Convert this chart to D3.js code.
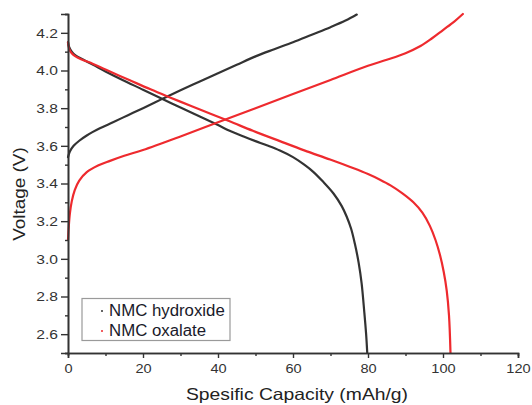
<!DOCTYPE html>
<html>
<head>
<meta charset="utf-8">
<script src="https://cdn.jsdelivr.net/npm/d3@7"></script>
<style>
  html, body { margin: 0; padding: 0; background: #fff; }
  svg { display: block; }
  text { font-family: "Liberation Sans", Arial, sans-serif; }
</style>
</head>
<body>
<svg id="chart" width="532" height="405"></svg>
<script>
// ---- data ----
const hydroxideChargeCap = [0, 0.5, 1.5, 3, 5, 8.5, 12, 16, 20, 25, 30, 35, 40, 45, 50, 55, 60, 65, 70, 74, 77];
const hydroxideChargeV   = [3.54, 3.57, 3.60, 3.627, 3.655, 3.693, 3.725, 3.763, 3.80, 3.848, 3.895, 3.94, 3.985, 4.03, 4.075, 4.113, 4.15, 4.19, 4.23, 4.265, 4.297];

const hydroxideDischargeCap = [0, 0.3, 1, 2, 4, 6.7, 10, 14, 20, 24.5, 30, 35, 40, 43.1, 47, 50, 53, 56.5, 60, 63, 65.4, 68, 70.8, 73, 74.3, 75.5, 76.5, 77.5, 78.3, 79, 79.5, 79.8];
const hydroxideDischargeV   = [4.15, 4.125, 4.10, 4.08, 4.058, 4.03, 3.995, 3.955, 3.898, 3.855, 3.803, 3.757, 3.71, 3.68, 3.648, 3.625, 3.603, 3.575, 3.54, 3.50, 3.462, 3.41, 3.347, 3.28, 3.225, 3.16, 3.08, 2.98, 2.87, 2.72, 2.60, 2.5];

const oxalateChargeCap = [0, 0.2, 0.5, 1, 1.8, 3, 5, 8, 11.2, 15, 20, 30, 40, 50, 60, 70, 80, 85, 90, 94, 97, 100, 103, 105.3];
const oxalateChargeV   = [3.10, 3.17, 3.24, 3.305, 3.365, 3.415, 3.46, 3.495, 3.52, 3.547, 3.578, 3.65, 3.725, 3.80, 3.875, 3.95, 4.025, 4.057, 4.092, 4.13, 4.17, 4.215, 4.26, 4.30];

const oxalateDischargeCap = [0, 0.3, 1, 2, 3.5, 6.7, 10, 16.5, 22, 27.2, 33, 38, 43.1, 49.3, 56.5, 63, 69.9, 76, 80, 83.2, 86, 89, 92.1, 94.5, 96.5, 98, 99.2, 100.2, 101, 101.6, 102];
const oxalateDischargeV   = [4.15, 4.115, 4.092, 4.075, 4.06, 4.035, 4.005, 3.948, 3.90, 3.857, 3.81, 3.77, 3.73, 3.68, 3.625, 3.576, 3.527, 3.482, 3.45, 3.42, 3.39, 3.35, 3.30, 3.245, 3.175, 3.10, 3.02, 2.93, 2.83, 2.70, 2.5];

const seriesNames  = ["NMC hydroxide", "NMC oxalate"];
const xTickValues  = [0, 20, 40, 60, 80, 100, 120];
const yTickValues  = [2.6, 2.8, 3.0, 3.2, 3.4, 3.6, 3.8, 4.0, 4.2];
const xAxisTitle   = "Spesific Capacity (mAh/g)";
const yAxisTitle   = "Voltage (V)";

// ---- layout ----
const colors = { "NMC hydroxide": "#333333", "NMC oxalate": "#ee2a2e" };
const svg = d3.select("#chart");
const mLeft = 68, mRight = 518, mTop = 14, mBottom = 353;

const x = d3.scaleLinear().domain([0, 120]).range([mLeft, mRight]);
const y = d3.scaleLinear().domain([2.5, 4.3]).range([mBottom, mTop]);

const curves = [
  { name: "NMC hydroxide", cap: hydroxideChargeCap, v: hydroxideChargeV },
  { name: "NMC hydroxide", cap: hydroxideDischargeCap, v: hydroxideDischargeV },
  { name: "NMC oxalate", cap: oxalateChargeCap, v: oxalateChargeV },
  { name: "NMC oxalate", cap: oxalateDischargeCap, v: oxalateDischargeV }
];

const line = d3.line()
  .x(d => x(d[0]))
  .y(d => y(d[1]))
  .curve(d3.curveCatmullRom.alpha(0.5));

curves.forEach(c => {
  const pts = c.cap.map((cv, j) => [cv, c.v[j]]);
  svg.append("path")
    .attr("d", line(pts))
    .attr("fill", "none")
    .attr("stroke", colors[c.name])
    .attr("stroke-width", 2.2)
    .attr("stroke-linejoin", "round")
    .attr("stroke-linecap", "round");
});

// widen text like the reference's rendering
function stretch(sel, k) {
  sel.each(function () {
    const len = this.getComputedTextLength();
    d3.select(this).attr("textLength", len * k).attr("lengthAdjust", "spacingAndGlyphs");
  });
}

// ---- axes ----
const axisColor = "#333";
const xAxis = d3.axisBottom(x).tickValues(xTickValues).tickSize(5).tickPadding(6).tickFormat(d3.format("d"));
const xMinor = d3.axisBottom(x).tickValues(d3.range(10, 120, 20)).tickSize(3).tickFormat("");
const yAxis = d3.axisLeft(y).tickValues(yTickValues).tickSize(7).tickPadding(3).tickFormat(d3.format(".1f"));
const yMinor = d3.axisLeft(y).tickValues(d3.range(2.5, 4.31, 0.2).map(v => +v.toFixed(1))).tickSize(3).tickFormat("");

function styleAxis(g) {
  g.select(".domain").attr("stroke", axisColor).attr("stroke-width", 1.6);
  g.selectAll(".tick line").attr("stroke", axisColor).attr("stroke-width", 1.4);
  g.selectAll(".tick text").attr("fill", "#333").style("font-size", "13px");
}

svg.append("g").attr("transform", `translate(0,${mBottom})`).call(xMinor).call(styleAxis);
const gx = svg.append("g").attr("transform", `translate(0,${mBottom})`).call(xAxis).call(styleAxis);
svg.append("g").attr("transform", `translate(${mLeft},0)`).call(yMinor).call(styleAxis);
const gy = svg.append("g").attr("transform", `translate(${mLeft},0)`).call(yAxis).call(styleAxis);
stretch(gx.selectAll(".tick text"), 1.12);
stretch(gy.selectAll(".tick text"), 1.2);

// axis titles
const xt = svg.append("text")
  .attr("x", 297).attr("y", 400)
  .attr("text-anchor", "middle")
  .attr("fill", "#222")
  .style("font-size", "16.5px")
  .text(xAxisTitle);
stretch(xt, 1.17);

const yt = svg.append("text")
  .attr("transform", `translate(25,194) rotate(-90)`)
  .attr("text-anchor", "middle")
  .attr("fill", "#222")
  .style("font-size", "16px")
  .text(yAxisTitle);
stretch(yt, 1.18);

// ---- legend ----
const lg = svg.append("g");
lg.append("rect")
  .attr("x", 82).attr("y", 298.5).attr("width", 148).attr("height", 42)
  .attr("fill", "#fff").attr("stroke", "#9a9a9a").attr("stroke-width", 1.2);
seriesNames.forEach((n, i) => {
  const cy = 310 + i * 20;
  lg.append("circle").attr("cx", 102).attr("cy", cy + 1).attr("r", 1).attr("fill", colors[n]);
  const t = lg.append("text")
    .attr("x", 109).attr("y", cy + 6)
    .attr("fill", "#1a1a2a")
    .style("font-size", "16px")
    .text(n);
  stretch(t, 1.05);
});
</script>
</body>
</html>
